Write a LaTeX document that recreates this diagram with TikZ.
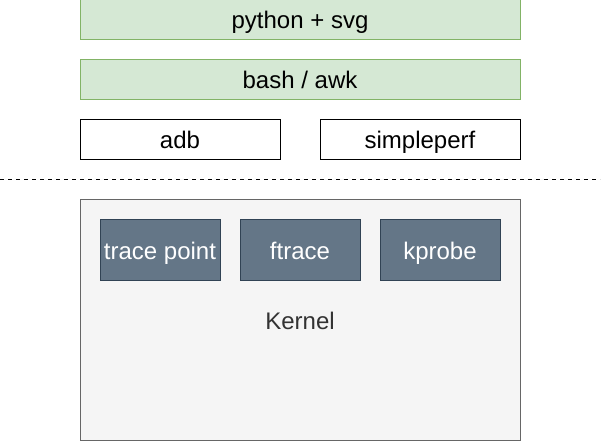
\documentclass[tikz,border=0pt]{standalone}
\usepackage{fontspec}
\setmainfont{Liberation Sans}
\usepackage{xcolor}
\usepackage{tikz}
\usetikzlibrary{positioning}

\definecolor{greenfill}{HTML}{D5E8D4}
\definecolor{greenline}{HTML}{82B366}
\definecolor{greyfill}{HTML}{F5F5F5}
\definecolor{greyline}{HTML}{666666}
\definecolor{slatefill}{HTML}{647687}
\definecolor{slateline}{HTML}{314354}
\definecolor{kerneltext}{HTML}{333333}

\tikzset{
  label font/.style={font=\fontsize{18}{21}\selectfont, text height=15.5pt, text depth=2pt},
  layer/.style={draw=greenline, fill=greenfill, line width=0.75pt, minimum width=330pt, minimum height=30pt, inner sep=0pt, label font},
  tool/.style={draw=black, fill=white, line width=0.75pt, minimum width=150pt, minimum height=30pt, inner sep=0pt, label font},
  probe/.style={draw=slateline, fill=slatefill, text=white, line width=0.75pt, minimum width=90pt, minimum height=45pt, inner sep=0pt, label font},
}

\begin{document}
\begin{tikzpicture}[x=0.75pt, y=-0.75pt]
\useasboundingbox (0,0) rectangle (602,441);

\node [layer] (python) at (300,20) {python + svg};
\node [layer] (bash) at (300,80) {bash / awk};
\node [tool] (adb) at (180,140) {adb};
\node [tool] (simpleperf) at (420,140) {simpleperf};

\draw [line width=0.75pt, dash pattern=on 3pt off 3pt] (0,180) -- (600,180);

\draw [draw=greyline, fill=greyfill, line width=0.75pt] (80,200) rectangle (520,440);
\node [text=kerneltext, label font] (kernel) at (300,320) {Kernel};

\node [probe] (tracepoint) at (160,250) {trace point};
\node [probe] (ftrace) at (300,250) {ftrace};
\node [probe] (kprobe) at (440,250) {kprobe};
\end{tikzpicture}
\end{document}
